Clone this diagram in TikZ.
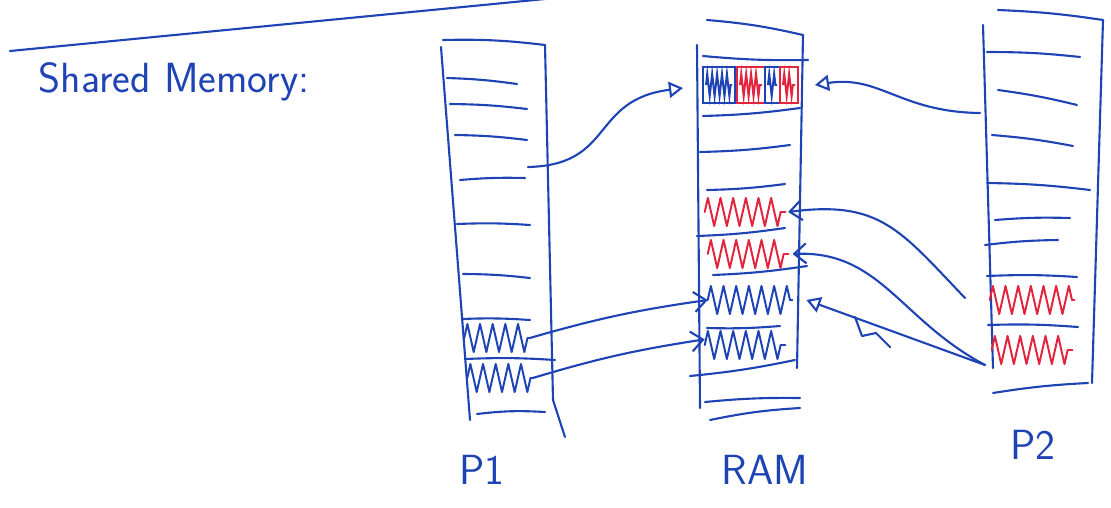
\documentclass[tikz,border=0pt]{standalone}
\usepackage{tikz}
\usetikzlibrary{arrows.meta,decorations.pathmorphing,positioning}
\definecolor{penb}{HTML}{1E43B4}
\definecolor{penr}{HTML}{E3243F}
\tikzset{
  pen/.style={draw=penb,line width=1.5pt,line cap=round,line join=round},
  slot/.style={inner sep=0pt,minimum width=2cm,minimum height=0.85cm},
  hatch/.style={draw=#1,line width=1.4pt,line cap=round,line join=round,decorate,
    decoration={zigzag,segment length=9pt,amplitude=10pt}},
  tinyhatch/.style={draw=#1,line width=1.4pt,decorate,
    decoration={zigzag,segment length=3.5pt,amplitude=8pt}},
  ar/.style={pen,-{Straight Barb[length=3mm,width=5mm]}},
  tri/.style={pen,-{Triangle[open,length=3.5mm,width=4mm]}},
  lbl/.style={text=penb,font=\sffamily\fontsize{30}{32}\selectfont}
}
\begin{document}
\begin{tikzpicture}[x=0.025cm,y=-0.025cm]
\useasboundingbox (0,0) rectangle (1111,507);
% heading
\draw[pen] (10,51) -- (545,-1);
\node[lbl,anchor=west] (title) at (34,82) {Shared Memory:};
% P1
\draw[pen] (443,40) to[bend left=4] (545,45);
\draw[pen] (441,47) -- (470,420);
\draw[pen] (545,45) -- (553,400) -- (565,437);
\foreach \ya/\yb/\xa/\xb in {78/84/447/517,104/109/450/527,135/140/455/527,
  180/178/460/525,224/225/457/530,274/278/463/530,319/320/462/530,359/360/465/555}
  \draw[pen] (\xa,\ya) to[bend left=3] (\xb,\yb);
\draw[pen] (477,414) to[bend left=5] (545,412);
\node[slot,minimum width=1.625cm] (p1a) at (497,338) {};
\node[slot,minimum width=1.625cm] (p1b) at (500,378) {};
% RAM
\draw[pen] (707,20) to[bend left=4] (803,35);
\draw[pen] (697,45) -- (700,408);
\draw[pen] (803,35) -- (797,368);
\foreach \xa/\ya/\xb/\yb in {703/56/808/60,703/116/800/108,700/152/790/145,
  707/190/785/184,697/236/785/228,713/275/807/266,707/328/780/326,690/376/795/360}
  \draw[pen] (\xa,\ya) to[bend right=3] (\xb,\yb);
\draw[pen] (705,402) to[bend left=3] (800,398);
\draw[pen] (710,420) to[bend left=4] (800,408);
\node[slot,minimum width=2.425cm,minimum height=1cm] (rtop) at (751,85) {};
\foreach \xa/\xb/\c in {703/735/penb,737/765/penr,765/780/penb,780/798/penr}{
  \draw[draw=\c,line width=1.4pt] (\xa,67) rectangle (\xb,103);
  \draw[tinyhatch=\c] (\xa+3,85) -- (\xb-3,85);
}
\node[slot] (r1) at (745,212) {};
\node[slot] (r2) at (748,254) {};
\node[slot,minimum width=2.1cm] (r3) at (750,300) {};
\node[slot,minimum height=0.75cm] (r4) at (745,345) {};
% P2
\draw[pen] (998,10) to[bend left=3] (1103,20);
\draw[pen] (1103,20) -- (1092,383);
\draw[pen] (983,25) -- (993,368);
\foreach \xa/\ya/\xb/\yb in {987/52/1080/57,998/90/1077/105,992/135/1073/146,
  987/183/1090/190,995/220/1070/218,985/245/1058/240,987/276/1077/277,988/325/1078/327}
  \draw[pen] (\xa,\ya) to[bend left=3] (\xb,\yb);
\draw[pen] (993,393) to[bend left=3] (1088,383);
\node[slot,minimum width=2.1cm,minimum height=0.9cm] (q1) at (1032,300) {};
\node[slot,minimum height=0.95cm] (q2) at (1032,350) {};
% hatched slots
\foreach \b/\c in {p1a/penb,p1b/penb,r3/penb,r4/penb,r1/penr,r2/penr,q1/penr,q2/penr}
  \draw[hatch=\c] (\b.west) -- (\b.east);
% labels
\node[lbl] (p1) at (482,470) {P1};
\node[lbl] (ram) at (765,470) {RAM};
\node[lbl] (p2) at (1033,445) {P2};
% connectors
\coordinate (p1src) at (528,167);
\coordinate (rinl) at (683,88);
\coordinate (p2src) at (980,113);
\coordinate (rinr) at (815,85);
\draw[tri] (p1src) .. controls (615,165) and (590,100) .. (rinl);
\draw[tri] (p2src) .. controls (900,112) and (880,75) .. (rinr);
\draw[ar] (p1a.east) to[bend left=4] (r3.west);
\draw[ar] (p1b.east) to[bend left=4] ([yshift=4]r4.west);
\coordinate (q1src) at (965,298);
\coordinate (q2src) at (985,365);
\draw[ar] (q1src) .. controls (900,230) and (880,200) .. ([xshift=2]r1.east);
\draw[ar] (q2src) .. controls (900,320) and (880,250) .. ([xshift=3]r2.east);
\draw[tri] (q2src) -- ([xshift=10]r3.east);
\draw[pen] (855,317) -- (862,336) -- (876,333) -- (890,347);
\end{tikzpicture}
\end{document}
